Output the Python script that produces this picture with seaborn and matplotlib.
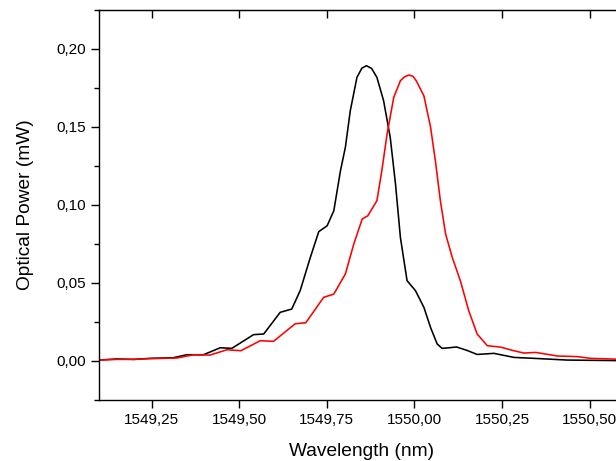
import numpy as np
import pandas as pd
import matplotlib
matplotlib.use("Agg")
import matplotlib.pyplot as plt
import matplotlib.ticker as mticker
import seaborn as sns

# Black trace (wavelength nm, power mW)
black_wl = [1549.10, 1549.15, 1549.20, 1549.246, 1549.312, 1549.35, 1549.398, 1549.446,
            1549.479, 1549.541, 1549.57, 1549.617, 1549.65, 1549.674, 1549.703, 1549.727,
            1549.751, 1549.770, 1549.789, 1549.803, 1549.817, 1549.836, 1549.850, 1549.863,
            1549.878, 1549.893, 1549.912, 1549.931, 1549.946, 1549.960, 1549.979, 1550.003,
            1550.027, 1550.046, 1550.065, 1550.079, 1550.100, 1550.120, 1550.150, 1550.179,
            1550.227, 1550.284, 1550.341, 1550.436, 1550.60]
black_pw = [0.0006, 0.0013, 0.0010, 0.0017, 0.0021, 0.0040, 0.0040, 0.0085,
            0.0081, 0.0169, 0.0173, 0.0312, 0.0333, 0.0451, 0.0664, 0.0829,
            0.0867, 0.0963, 0.1220, 0.1370, 0.1604, 0.1818, 0.1877, 0.1893,
            0.1875, 0.1818, 0.1669, 0.1433, 0.1135, 0.0792, 0.0515, 0.0451,
            0.0344, 0.0215, 0.0109, 0.0081, 0.0085, 0.0090, 0.0068, 0.0042,
            0.0049, 0.0023, 0.0017, 0.0006, 0.0002]

# Red trace (wavelength nm, power mW)
red_wl = [1549.10, 1549.15, 1549.20, 1549.246, 1549.322, 1549.37, 1549.417, 1549.465,
          1549.505, 1549.56, 1549.598, 1549.66, 1549.69, 1549.741, 1549.77, 1549.803,
          1549.827, 1549.851, 1549.867, 1549.893, 1549.907, 1549.922, 1549.941, 1549.960,
          1549.972, 1549.984, 1549.996, 1550.005, 1550.027, 1550.046, 1550.060, 1550.074,
          1550.089, 1550.108, 1550.131, 1550.155, 1550.179, 1550.208, 1550.246, 1550.280,
          1550.312, 1550.346, 1550.408, 1550.465, 1550.503, 1550.60]
red_pw = [0.0006, 0.0010, 0.0011, 0.0015, 0.0019, 0.0040, 0.0038, 0.0072,
          0.0066, 0.0130, 0.0126, 0.0239, 0.0245, 0.0408, 0.0429, 0.0558,
          0.0750, 0.0910, 0.0931, 0.1028, 0.1220, 0.1455, 0.1690, 0.1797,
          0.1822, 0.1833, 0.1825, 0.1797, 0.1700, 0.1500, 0.1280, 0.1028,
          0.0814, 0.0664, 0.0515, 0.0322, 0.0173, 0.0098, 0.0089, 0.0068,
          0.0051, 0.0055, 0.0032, 0.0028, 0.0017, 0.0010]

x_ticks = [1549.25, 1549.50, 1549.75, 1550.00, 1550.25, 1550.50]
y_ticks = [0.00, 0.05, 0.10, 0.15, 0.20]

df = pd.concat([
    pd.DataFrame({"wl": black_wl, "pw": black_pw, "trace": "black"}),
    pd.DataFrame({"wl": red_wl, "pw": red_pw, "trace": "red"}),
], ignore_index=True)

sns.set_style("ticks")
plt.rcParams["font.family"] = ["Liberation Sans", "DejaVu Sans"]
plt.rcParams["text.color"] = "black"
plt.rcParams["axes.labelcolor"] = "black"

fig = plt.figure(figsize=(6.16, 4.61), dpi=100)
ax = fig.add_axes([99 / 616, 61 / 461, (624.7 - 99) / 616, 390 / 461])

sns.lineplot(data=df, x="wl", y="pw", hue="trace",
             palette={"black": "#000000", "red": "#ff0000"},
             sort=False, estimator=None, linewidth=1.15, legend=False, ax=ax)

ax.set_xlim(1549.10, 1550.60)
ax.set_ylim(-0.025, 0.225)

comma = lambda v, p: f"{v:.2f}".replace(".", ",")
ax.set_xticks(x_ticks)
ax.set_yticks(y_ticks)
ax.xaxis.set_major_formatter(mticker.FuncFormatter(comma))
ax.yaxis.set_major_formatter(mticker.FuncFormatter(comma))
ax.yaxis.set_minor_locator(mticker.MultipleLocator(0.025))

for s in ax.spines.values():
    s.set_visible(True)
    s.set_linewidth(1.0)
    s.set_color("black")

ax.tick_params(axis="both", which="major", direction="out", length=5.8, width=1.0,
               labelsize=11, colors="black", labelcolor="black", pad=3.5)
ax.tick_params(axis="y", which="minor", direction="out", length=3.6, width=1.0,
               colors="black")
ax.tick_params(axis="x", which="minor", bottom=False)

top = ax.secondary_xaxis("top")
top.set_xticks(x_ticks)
top.tick_params(direction="in", length=5.8, width=1.0, labeltop=False, colors="black")
right = ax.secondary_yaxis("right")
right.set_yticks(y_ticks)
right.tick_params(direction="in", length=5.8, width=1.0, labelright=False, colors="black")

ax.set_xlabel("Wavelength (nm)", fontsize=13.8, labelpad=11.5, color="black")
ax.set_ylabel("Optical Power (mW)", fontsize=13.8, labelpad=16.5, color="black")

fig.savefig("out.png", dpi=100)
